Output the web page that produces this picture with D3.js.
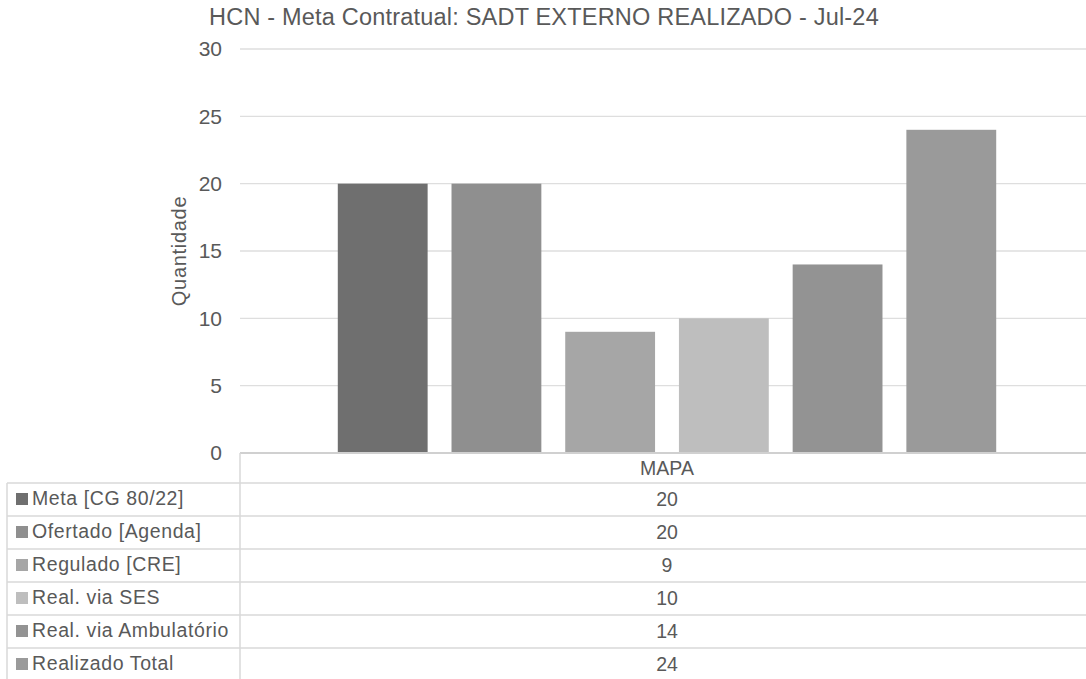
<!DOCTYPE html>
<html>
<head>
<meta charset="utf-8">
<script src="https://cdn.jsdelivr.net/npm/d3@7"></script>
<style>
  body { margin: 0; background: #fff; }
  text { font-family: "Liberation Sans", Arial, sans-serif; fill: #595959; }
</style>
</head>
<body>
<div id="chart"></div>
<script>
// chart data
const categories = ["MAPA"]
const seriesNames = ["Meta [CG 80/22]", "Ofertado [Agenda]", "Regulado [CRE]", "Real. via SES", "Real. via Ambulatório", "Realizado Total"]
const seriesValues = [20, 20, 9, 10, 14, 24]
const seriesColors = ["#6f6f6f", "#8f8f8f", "#a6a6a6", "#bebebe", "#939393", "#9a9a9a"]
const yTicks = [0, 5, 10, 15, 20, 25, 30]
const chartTitle = "HCN - Meta Contratual: SADT EXTERNO REALIZADO - Jul-24"
const yTitle = "Quantidade"

const width = 1086, height = 679
const plotLeft = 240, plotRight = 1094, plotTop = 49, plotBottom = 453
const tableLeft = 7, rowH = 33

const svg = d3.select("#chart").append("svg")
    .attr("width", width)
    .attr("height", height)

// scales
const y = d3.scaleLinear().domain([0, 30]).range([plotBottom, plotTop])
const x0 = d3.scaleBand().domain(categories).range([plotLeft, plotRight])
const x1 = d3.scaleBand().domain(seriesNames).range([0, x0.bandwidth()])
    .paddingInner(0.21).paddingOuter(0.86)

// title
svg.append("text")
    .attr("x", 544).attr("y", 25)
    .attr("text-anchor", "middle")
    .style("font-size", "23.5px")
    .style("letter-spacing", "0.2px")
    .text(chartTitle)

// gridlines
svg.append("g").selectAll("line")
    .data(yTicks.filter(d => d > 0))
    .enter().append("line")
    .attr("x1", plotLeft).attr("x2", width)
    .attr("y1", d => y(d)).attr("y2", d => y(d))
    .attr("stroke", "#dedede").attr("stroke-width", 1.3)

// y axis labels
const yAxis = svg.append("g")
    .attr("transform", "translate(222,0)")
    .call(d3.axisLeft(y).tickValues(yTicks).tickSize(0).tickPadding(0))
yAxis.select(".domain").remove()
yAxis.selectAll("text")
    .style("font-size", "21px")
    .style("font-family", "'Liberation Sans', Arial, sans-serif")
    .attr("fill", "#595959")

svg.append("text")
    .attr("transform", "translate(186," + ((plotTop + plotBottom) / 2) + ") rotate(-90)")
    .attr("text-anchor", "middle")
    .style("font-size", "20px")
    .style("letter-spacing", "0.7px")
    .text(yTitle)

// bars
const groups = svg.append("g").selectAll("g")
    .data(categories)
    .enter().append("g")
    .attr("transform", d => "translate(" + x0(d) + ",0)")

groups.selectAll("rect")
    .data(seriesNames.map((s, i) => ({ name: s, value: seriesValues[i], color: seriesColors[i] })))
    .enter().append("rect")
    .attr("x", d => x1(d.name))
    .attr("width", x1.bandwidth())
    .attr("y", d => y(d.value))
    .attr("height", d => y(0) - y(d.value))
    .attr("fill", d => d.color)

// data table
const table = svg.append("g")
const lineColor = "#d9d9d9"

// horizontal axis line / table top
table.append("line")
    .attr("x1", plotLeft).attr("x2", width)
    .attr("y1", plotBottom).attr("y2", plotBottom)
    .attr("stroke", "#d0d0d0").attr("stroke-width", 2)

// category label row
table.selectAll(".cat")
    .data(categories)
    .enter().append("text")
    .attr("x", d => x0(d) + x0.bandwidth() / 2)
    .attr("y", plotBottom + 22)
    .attr("text-anchor", "middle")
    .style("font-size", "19.5px")
    .text(d => d)

const rowTop = i => plotBottom + 30 + i * rowH

// row separators
table.selectAll(".rowline")
    .data(d3.range(seriesNames.length))
    .enter().append("line")
    .attr("x1", tableLeft).attr("x2", width)
    .attr("y1", i => rowTop(i)).attr("y2", i => rowTop(i))
    .attr("stroke", lineColor).attr("stroke-width", 1.5)

// vertical lines
table.append("line")
    .attr("x1", plotLeft).attr("x2", plotLeft)
    .attr("y1", plotBottom).attr("y2", height)
    .attr("stroke", lineColor).attr("stroke-width", 1.5)
table.append("line")
    .attr("x1", tableLeft).attr("x2", tableLeft)
    .attr("y1", rowTop(0)).attr("y2", height)
    .attr("stroke", lineColor).attr("stroke-width", 1.5)

const rows = table.selectAll(".row")
    .data(seriesNames.map((s, i) => ({ name: s, value: seriesValues[i], color: seriesColors[i], i: i })))
    .enter().append("g")
    .attr("transform", d => "translate(0," + rowTop(d.i) + ")")

rows.append("rect")
    .attr("x", 16).attr("y", 10)
    .attr("width", 12).attr("height", 12)
    .attr("fill", d => d.color)

rows.append("text")
    .attr("x", 32).attr("y", 22)
    .style("font-size", "19.5px")
    .style("letter-spacing", "0.6px")
    .text(d => d.name)

rows.append("text")
    .attr("x", x0(categories[0]) + x0.bandwidth() / 2)
    .attr("y", 23)
    .attr("text-anchor", "middle")
    .style("font-size", "19.5px")
    .text(d => d.value)
</script>
</body>
</html>
